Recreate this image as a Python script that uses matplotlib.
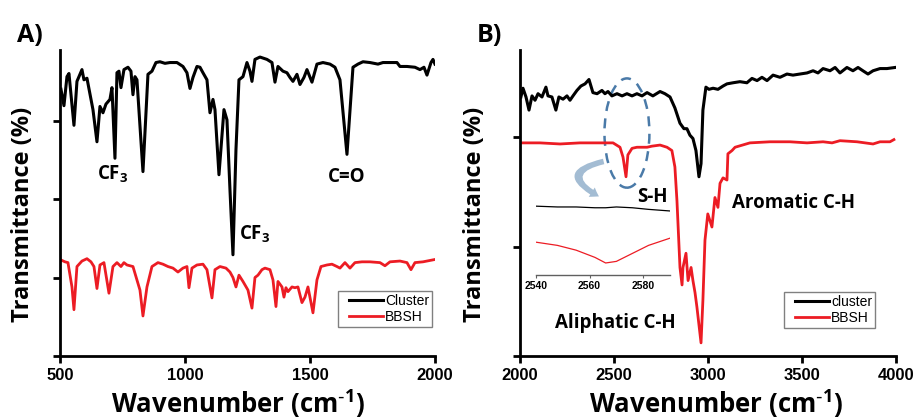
import matplotlib.pyplot as plt
from matplotlib.patches import Ellipse, FancyArrowPatch
from matplotlib.legend_handler import HandlerLine2D

# ---- panel A (500-2000 cm-1) ----
a_cluster_wn = [504, 516, 528, 536, 556, 568, 588, 596, 608, 632, 648, 660, 672, 684, 700, 708,
                720, 728, 736, 744, 756, 772, 784, 792, 800, 808, 832, 852, 868, 884, 900, 920,
                940, 968, 992, 1008, 1020, 1032, 1048, 1060, 1072, 1088, 1100, 1112, 1120, 1136,
                1156, 1168, 1180, 1192, 1204, 1216, 1232, 1248, 1260, 1268, 1280, 1300, 1328,
                1348, 1360, 1372, 1392, 1408, 1420, 1432, 1448, 1460, 1476, 1488, 1508, 1528,
                1552, 1580, 1600, 1620, 1648, 1672, 1692, 1712, 1740, 1772, 1792, 1820, 1848,
                1860, 1888, 1920, 1940, 1956, 1968, 1984, 1992, 2000]
a_cluster_t = [3.40, 3.19, 3.56, 3.60, 2.94, 3.50, 3.65, 3.52, 3.54, 3.14, 2.73, 3.18, 3.10, 3.21,
               3.27, 3.42, 2.52, 3.61, 3.63, 3.42, 3.65, 3.68, 3.63, 3.33, 3.56, 3.52, 2.35, 3.59,
               3.63, 3.74, 3.75, 3.73, 3.74, 3.74, 3.69, 3.61, 3.41, 3.55, 3.69, 3.68, 3.61, 3.52,
               3.10, 3.27, 3.14, 2.31, 3.14, 3.01, 2.12, 1.29, 2.63, 3.52, 3.56, 3.74, 3.63, 3.50,
               3.78, 3.81, 3.78, 3.74, 3.49, 3.69, 3.63, 3.61, 3.55, 3.50, 3.59, 3.46, 3.55, 3.65,
               3.49, 3.72, 3.74, 3.72, 3.68, 3.52, 2.57, 3.68, 3.72, 3.75, 3.74, 3.72, 3.74, 3.74,
               3.74, 3.69, 3.69, 3.68, 3.65, 3.68, 3.58, 3.74, 3.78, 3.72]

a_bbsh_wn = [500, 520, 532, 548, 556, 568, 588, 608, 624, 636, 648, 660, 676, 696, 712, 728, 744,
             756, 768, 792, 820, 832, 848, 868, 892, 912, 932, 952, 972, 992, 1008, 1016, 1028,
             1048, 1072, 1088, 1108, 1120, 1140, 1164, 1180, 1192, 1204, 1216, 1232, 1252, 1268,
             1280, 1292, 1308, 1320, 1340, 1352, 1364, 1372, 1388, 1396, 1404, 1412, 1428, 1440,
             1452, 1468, 1480, 1492, 1512, 1528, 1544, 1568, 1588, 1608, 1620, 1640, 1660, 1680,
             1708, 1740, 1780, 1800, 1820, 1860, 1888, 1904, 1920, 1952, 2000]
a_bbsh_t = [1.23, 1.20, 1.19, 0.88, 0.59, 1.14, 1.21, 1.24, 1.20, 1.14, 0.86, 1.16, 1.19, 0.80,
            1.14, 1.19, 1.14, 1.19, 1.16, 1.14, 0.84, 0.51, 0.88, 1.14, 1.19, 1.17, 1.14, 1.12,
            1.07, 1.12, 1.14, 0.87, 1.12, 1.16, 1.17, 1.10, 0.74, 1.10, 1.14, 1.12, 1.07, 1.00,
            0.88, 1.03, 0.95, 0.84, 0.61, 1.00, 1.03, 1.10, 1.12, 1.10, 0.97, 0.63, 0.95, 0.88,
            0.75, 0.87, 0.82, 0.88, 0.87, 0.88, 0.68, 0.75, 0.88, 0.55, 0.97, 1.14, 1.16, 1.17,
            1.14, 1.12, 1.19, 1.12, 1.19, 1.20, 1.20, 1.19, 1.15, 1.20, 1.21, 1.19, 1.10, 1.19,
            1.20, 1.23]

# ---- panel B (2000-4000 cm-1) ----
b_cluster_wn = [2005, 2016, 2032, 2048, 2064, 2080, 2096, 2117, 2138, 2149, 2170, 2191, 2207,
                2229, 2250, 2266, 2282, 2303, 2324, 2346, 2367, 2388, 2410, 2436, 2452, 2468,
                2489, 2516, 2543, 2569, 2596, 2622, 2649, 2676, 2707, 2745, 2771, 2798, 2824,
                2851, 2872, 2888, 2904, 2920, 2936, 2952, 2963, 2973, 2989, 3005, 3027, 3053,
                3080, 3101, 3133, 3170, 3207, 3234, 3261, 3287, 3314, 3346, 3383, 3420, 3452,
                3489, 3527, 3559, 3585, 3612, 3649, 3676, 3702, 3739, 3771, 3798, 3824, 3851,
                3878, 3915, 3952, 3995]
b_cluster_t = [2.37, 2.45, 2.37, 2.25, 2.38, 2.34, 2.40, 2.37, 2.46, 2.38, 2.37, 2.25, 2.37,
               2.35, 2.38, 2.34, 2.38, 2.43, 2.47, 2.49, 2.53, 2.41, 2.40, 2.43, 2.40, 2.42,
               2.38, 2.40, 2.38, 2.40, 2.38, 2.40, 2.38, 2.41, 2.38, 2.42, 2.40, 2.37, 2.27,
               2.13, 2.08, 2.08, 2.02, 1.99, 1.88, 1.64, 1.76, 2.25, 2.46, 2.44, 2.45, 2.44,
               2.47, 2.49, 2.50, 2.51, 2.50, 2.54, 2.52, 2.55, 2.52, 2.57, 2.55, 2.58, 2.57,
               2.58, 2.59, 2.61, 2.59, 2.63, 2.61, 2.64, 2.59, 2.64, 2.61, 2.64, 2.61, 2.58,
               2.61, 2.63, 2.63, 2.64]

b_bbsh_wn = [2005, 2106, 2213, 2319, 2441, 2495, 2532, 2548, 2564, 2574, 2596, 2622, 2676,
             2702, 2745, 2782, 2808, 2824, 2835, 2851, 2862, 2867, 2883, 2894, 2910, 2920,
             2931, 2941, 2963, 2973, 2984, 2999, 3021, 3037, 3053, 3064, 3080, 3101, 3106,
             3128, 3144, 3223, 3330, 3436, 3527, 3612, 3660, 3702, 3793, 3878, 3915, 3968, 3989]
b_bbsh_t = [1.95, 1.95, 1.94, 1.95, 1.95, 1.95, 1.91, 1.82, 1.64, 1.84, 1.90, 1.91, 1.91,
            1.92, 1.93, 1.91, 1.88, 1.73, 1.42, 0.81, 0.65, 0.81, 0.94, 0.69, 0.81, 0.69,
            0.58, 0.45, 0.12, 0.51, 1.06, 1.30, 1.18, 1.45, 1.36, 1.58, 1.63, 1.61, 1.85,
            1.88, 1.91, 1.95, 1.96, 1.96, 1.95, 1.96, 1.95, 1.97, 1.96, 1.94, 1.96, 1.96, 1.98]

# ---- inset (S-H region) ----
ins_wn = [2540, 2548, 2555, 2562, 2566, 2570, 2576, 2582, 2590]
ins_cluster = [0.86, 0.85, 0.85, 0.84, 0.84, 0.85, 0.84, 0.82, 0.80]
ins_bbsh = [0.41, 0.37, 0.31, 0.22, 0.15, 0.17, 0.27, 0.37, 0.46]

RED = '#ec1c24'
LBL = 'Open Sans'
TCK = 'Liberation Sans'
plt.rcParams['mathtext.default'] = 'regular'

fig = plt.figure(figsize=(9.14, 4.19), dpi=100)
axA = fig.add_axes([0.0656, 0.1504, 0.4103, 0.7303])
axB = fig.add_axes([0.5689, 0.1504, 0.4114, 0.7303])


def style(ax, xlim, xticks, ylim, yticks):
    ax.set_xlim(*xlim)
    ax.set_ylim(*ylim)
    ax.set_xticks(xticks)
    ax.set_yticks(yticks)
    ax.set_yticklabels([])
    for s in ['top', 'right']:
        ax.spines[s].set_visible(False)
    for s in ['left', 'bottom']:
        ax.spines[s].set_linewidth(2)
    ax.tick_params(direction='out', length=5, width=2, pad=4)
    for lab in ax.get_xticklabels():
        lab.set_fontfamily(TCK)
        lab.set_fontweight('bold')
        lab.set_fontsize(12)


def legend(ax, anchor):
    hm = {ln: HandlerLine2D(xpad=0.6) for ln in ax.get_lines()}
    leg = ax.legend(loc='lower right', bbox_to_anchor=anchor, fancybox=False,
                    prop={'family': TCK, 'size': 10}, handlelength=3.05, handletextpad=0.15,
                    borderpad=0.2, labelspacing=0.15, borderaxespad=0, framealpha=1,
                    handler_map=hm)
    leg.get_frame().set_edgecolor('#808080')
    leg.get_frame().set_linewidth(1)


# panel A
axA.plot(a_cluster_wn, a_cluster_t, color='black', lw=2.2, label='Cluster')
axA.plot(a_bbsh_wn, a_bbsh_t, color=RED, lw=2.0, label='BBSH')
style(axA, (500, 2000), [500, 1000, 1500, 2000], (0, 3.9), [0, 1, 2, 3])
legend(axA, (0.992, 0.095))
axA.text(648, 2.25, 'CF$_3$', family=LBL, weight='bold', fontsize=13.5, va='baseline')
axA.text(1216, 1.48, 'CF$_3$', family=LBL, weight='bold', fontsize=13.5, va='baseline')
axA.text(1572, 2.22, 'C=O', family=LBL, weight='bold', fontsize=13.5, va='baseline')

# panel B
axB.plot(b_cluster_wn, b_cluster_t, color='black', lw=2.2, label='cluster')
axB.plot(b_bbsh_wn, b_bbsh_t, color=RED, lw=2.0, label='BBSH')
style(axB, (2000, 4000), [2000, 2500, 3000, 3500, 4000], (0, 2.8), [0, 1, 2])
legend(axB, (0.944, 0.0915))
axB.text(2622, 1.41, 'S-H', family=LBL, weight='bold', fontsize=13.5, va='baseline')
axB.text(3128, 1.35, 'Aromatic C-H', family=LBL, weight='bold', fontsize=13.5, va='baseline')
axB.text(2186, 0.26, 'Aliphatic C-H', family=LBL, weight='bold', fontsize=13.5, va='baseline')

axB.add_patch(Ellipse((2569, 2.04), 239, 1.0, fill=False, edgecolor='#4a7aa8',
                      lw=1.8, linestyle=(0, (4, 3))))
axB.add_patch(FancyArrowPatch((2445, 1.78), (2420, 1.46), connectionstyle='arc3,rad=1.3',
                              arrowstyle='simple,head_width=8,head_length=6,tail_width=4',
                              color='#a3bcd3', lw=0, shrinkA=0, shrinkB=0))

# inset
axI = fig.add_axes([0.5864, 0.3437, 0.1466, 0.191])
axI.patch.set_alpha(0)
axI.plot(ins_wn, ins_cluster, color='black', lw=0.9)
axI.plot(ins_wn, ins_bbsh, color=RED, lw=0.9)
axI.set_xlim(2540, 2590)
axI.set_ylim(0, 1)
axI.set_xticks([2540, 2560, 2580])
axI.set_yticks([])
for s in ['top', 'right', 'left']:
    axI.spines[s].set_visible(False)
axI.spines['bottom'].set_color('#606060')
axI.spines['bottom'].set_linewidth(1)
axI.tick_params(length=2, width=0.8, pad=2, colors='#606060', labelcolor='black')
for lab in axI.get_xticklabels():
    lab.set_fontfamily(TCK)
    lab.set_fontweight('bold')
    lab.set_fontsize(7.5)

# labels
fig.text(17 / 914, 1 - 42 / 419, 'A)', family=LBL, weight='bold', fontsize=18, va='baseline')
fig.text(477 / 914, 1 - 42 / 419, 'B)', family=LBL, weight='bold', fontsize=18, va='baseline')
for xc in [23, 475]:
    fig.text(xc / 914, 1 - 214 / 419, 'Transmittance (%)', family=LBL, weight='bold',
             fontsize=17, rotation=90, ha='center', va='center')
for xc in [238, 716]:
    fig.text(xc / 914, 1 - 413 / 419, r'Wavenumber (cm$^{\text{-}1}$)', family=LBL,
             weight='bold', fontsize=18.5, ha='center', va='baseline')

fig.savefig('out.png', dpi=100)
